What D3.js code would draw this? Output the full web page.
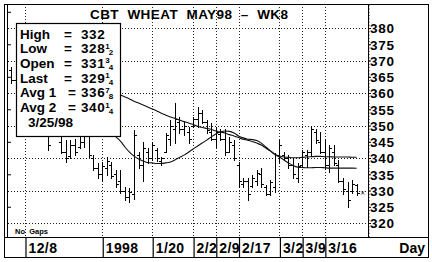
<!DOCTYPE html>
<html>
<head>
<meta charset="utf-8">
<script src="https://cdn.jsdelivr.net/npm/d3@7"></script>
<style>
  html, body { margin: 0; padding: 0; background: #fff; }
  svg { display: block; }
  text { font-family: "Liberation Sans", Arial, sans-serif; font-weight: bold; fill: #000; }
</style>
</head>
<body>
<svg id="chart" width="432" height="262"></svg>
<script>
// ---- data ---------------------------------------------------------------
const titleText = "CBT  WHEAT  MAY98  \u2013  WK8";

const dates = [
  "12/3","12/4","12/5","12/8","12/9","12/10","12/11","12/12","12/15","12/16",
  "12/17","12/18","12/19","12/22","12/23","12/24","12/26","12/29","12/30","12/31",
  "1/2","1/5","1/6","1/7","1/8","1/9","1/12","1/13","1/14","1/15",
  "1/16","1/20","1/21","1/22","1/23","1/26","1/27","1/28","1/29","1/30",
  "2/2","2/3","2/4","2/5","2/6","2/9","2/10","2/11","2/12","2/13",
  "2/17","2/18","2/19","2/20","2/23","2/24","2/25","2/26","2/27","3/2",
  "3/3","3/4","3/5","3/6","3/9","3/10","3/11","3/12","3/13","3/16",
  "3/17","3/18","3/19","3/20","3/23","3/24","3/25"
];

const highs = [
  368, 367, 364, 362, 360, 358, 357, 354, 349, 352,
  351, 346.5, 345.5, 345.5, 346, 346.5, 347.75, 348.5, 341, 338.5,
  338.75, 340.25, 338.75, 336.25, 336.25, 331, 330.75, 348.5, 342, 345,
  343, 345, 343, 340.25, 347.75, 351.75, 357, 352.5, 351, 349.5,
  352.5, 355.75, 354.75, 351.75, 350.75, 349.5, 349, 349, 346.5, 345.5,
  338.75, 333.75, 334, 334.75, 336.25, 337, 331.75, 333.25, 341.5, 345.5,
  341.75, 341, 340, 338.5, 342.5, 342.5, 350, 349, 348, 346,
  344, 344, 339.5, 334, 332.5, 333.25, 332
];
const lows = [
  363, 361, 358, 356, 354, 352, 351, 348, 342.5, 347,
  347.5, 341.5, 338.75, 340, 341, 343, 343.5, 340.25, 336.25, 333.75,
  333.25, 334.75, 333.75, 331, 329.25, 327, 326.5, 327.5, 337, 333,
  338.5, 339.5, 339, 337.75, 341.75, 344, 344.5, 347.75, 347, 344.5,
  349.5, 349.5, 350.75, 347.75, 345.5, 343.5, 345.5, 341, 341.75, 339.5,
  331, 331, 327, 331, 331.75, 331, 328.5, 328.5, 329.5, 338.75,
  339.5, 337, 333.75, 332.5, 337.75, 337.25, 340.5, 344.5, 341.5, 337,
  335.75, 337.75, 332.5, 329, 325, 329.25, 328.5
];
const opens = [
  367, 364, 362, 359, 357, 355, 353, 353, 348, 347.5,
  350, 345, 342, 340.5, 344, 343.5, 345, 347, 340, 337,
  335, 337, 338, 335, 333, 330, 328, 329, 341, 338,
  342, 340, 342.5, 339, 342, 346, 349, 351, 349, 348,
  350, 352, 354, 351, 348, 346, 347.5, 346, 342, 344,
  338, 332, 333, 331.5, 333, 335, 331, 329, 331, 341,
  341, 340, 338, 334, 338, 341, 342, 348, 345, 342,
  338, 342, 338, 333, 330, 330, 331.75
];
const closes = [
  364, 362, 359, 357, 355, 353, 354, 349, 344, 351,
  348, 342, 340, 344, 342, 345, 347, 341, 337, 335,
  337.5, 339, 334.5, 332, 330, 328, 329.5, 347, 338, 343,
  340, 344, 340, 340, 347, 350, 352, 349, 350, 346,
  352, 354, 351, 348.5, 346, 348, 346, 342, 345, 340,
  333, 333, 329, 334, 335.5, 332, 329, 332.5, 341, 344,
  340, 338, 335, 337.5, 342, 342, 349, 345.5, 342, 338,
  343, 338.5, 333, 330.5, 327, 332, 329.25
];

// moving averages, daily from 1/7 to 3/25
const avgStart = "1/7";
const avg1 = [
  346.5, 345.2, 343.4, 341.8, 340.6, 339.7, 339.1, 338.6, 338.5, 338.3,
  338.3, 338.5, 338.8, 339.4, 340.2, 340.9, 341.8, 342.8, 343.7, 344.6,
  345.5, 346.5, 347.4, 348.0, 348.3, 348.2, 347.7, 346.8, 346.2, 345.8,
  345.7, 345.4, 344.6, 343.4, 342.2, 341.1, 340.3, 339.4, 338.5, 337.7,
  337.2, 337.1, 337.0, 337.0, 337.1, 337.1, 337.0, 336.9, 336.9, 336.9,
  336.9, 336.9, 336.9, 336.875
];
const avg2 = [
  360.3, 359.4, 358.8, 358.2, 357.5, 356.9, 356.3, 355.7, 355.1, 354.5,
  353.8, 353.2, 352.6, 352.2, 351.7, 351.2, 350.8, 350.3, 349.8, 349.4,
  349.1, 348.8, 348.3, 348.0, 347.7, 347.2, 346.8, 346.3, 345.8, 345.5,
  345.1, 344.6, 344.0, 343.1, 342.2, 341.2, 340.6, 340.3, 340.2, 340.1,
  340.1, 340.2, 340.3, 340.4, 340.5, 340.5, 340.4, 340.4, 340.3, 340.3,
  340.3, 340.3, 340.25, 340.25
];

const tickDates  = ["12/8", "1/2", "1/20", "2/2", "2/9", "2/17", "3/2", "3/9", "3/16"];
const tickLabels = ["12/8", "1998", "1/20", "2/2", "2/9", "2/17", "3/2", "3/9", "3/16"];
const priceLabels = [320, 325, 330, 335, 340, 345, 350, 355, 360, 365, 370, 375, 380];
const gridPrices  = [320, 330, 340, 350, 360, 370, 380];
const lastDateLabel = "3/25/98";

// ---- layout -------------------------------------------------------------
const svg = d3.select("#chart");
const frame = { left: 4, right: 428, top: 4, bottom: 257 };
const plot  = { left: 8, right: 368, top: 4, bottom: 237 };

const x = d3.scaleLinear().domain([-0.74, 78.5]).range([plot.left, plot.right]);
const y = d3.scaleLinear().domain([315.7, 387.4]).range([plot.bottom, plot.top]);
const cx = i => Math.round(x(i)) + 0.5;
const cy = v => Math.round(y(v)) + 0.5;

const bars = dates.map((d, i) => ({ i, d, h: highs[i], l: lows[i], o: opens[i], c: closes[i] }));
const a0 = dates.indexOf(avgStart);
const avg1Pts = avg1.map((v, k) => ({ i: a0 + k, v }));
const avg2Pts = avg2.map((v, k) => ({ i: a0 + k, v }));
const tickIdx = tickDates.map(d => dates.indexOf(d));

svg.append("rect").attr("width", 432).attr("height", 262).attr("fill", "#fff");

// ---- grid ---------------------------------------------------------------
const grid = svg.append("g")
  .attr("stroke", "#222").attr("stroke-width", 1).attr("stroke-dasharray", "1,2")
  .attr("shape-rendering", "crispEdges");
grid.selectAll("line.h").data(gridPrices).join("line").attr("class", "h")
  .attr("x1", plot.left).attr("x2", plot.right)
  .attr("y1", d => cy(d)).attr("y2", d => cy(d));
grid.selectAll("line.v").data(tickIdx).join("line").attr("class", "v")
  .attr("x1", d => cx(d)).attr("x2", d => cx(d))
  .attr("y1", plot.top).attr("y2", plot.bottom);

// ---- OHLC bars ----------------------------------------------------------
const bg = svg.append("g").attr("stroke", "#000").attr("stroke-width", 1)
  .attr("shape-rendering", "crispEdges");
const bar = bg.selectAll("g").data(bars).join("g");
bar.append("line")
  .attr("x1", d => cx(d.i)).attr("x2", d => cx(d.i))
  .attr("y1", d => Math.round(y(d.h))).attr("y2", d => Math.round(y(d.l)) + 1);
bar.append("line")
  .attr("x1", d => cx(d.i) - 2.5).attr("x2", d => cx(d.i))
  .attr("y1", d => cy(d.o)).attr("y2", d => cy(d.o));
bar.append("line")
  .attr("x1", d => cx(d.i)).attr("x2", d => cx(d.i) + 2.5)
  .attr("y1", d => cy(d.c)).attr("y2", d => cy(d.c));

// ---- moving averages ----------------------------------------------------
const line = d3.line().x(d => x(d.i)).y(d => y(d.v)).curve(d3.curveMonotoneX);
[avg1Pts, avg2Pts].forEach(pts => {
  svg.append("path").datum(pts).attr("d", line)
    .attr("fill", "none").attr("stroke", "#111").attr("stroke-width", 1.1);
});

// last price marker
const last = bars[bars.length - 1];
const mx = x(last.i) + 6, my = y(last.c);
svg.append("path")
  .attr("d", `M${mx - 1.5},${my - 1.5}L${mx + 1.5},${my + 1.5}M${mx - 1.5},${my + 1.5}L${mx + 1.5},${my - 1.5}`)
  .attr("stroke", "#000").attr("stroke-width", 0.8);

// ---- right price axis ---------------------------------------------------
const yAxis = d3.axisRight(y).tickValues(priceLabels).tickSize(3).tickPadding(1)
  .tickFormat(d3.format("d"));
svg.append("g").attr("transform", `translate(${plot.right},0)`).call(yAxis)
  .call(g => g.select(".domain").remove())
  .attr("font-size", 13.5).attr("font-family", null)
  .call(g => g.selectAll("line").attr("stroke", "#000"))
  .call(g => g.selectAll("text").attr("x", 2).attr("dy", "0.36em")
    .attr("letter-spacing", 0.8));
const yMinor = d3.axisRight(y).tickValues(d3.range(316, 388)).tickSize(1.5).tickFormat("");
svg.append("g").attr("transform", `translate(${plot.right},0)`).call(yMinor)
  .call(g => g.select(".domain").remove())
  .call(g => g.selectAll("line").attr("stroke", "#000"));

// left border ticks
const yLeft = d3.axisRight(y).tickValues([325, 335, 345, 355, 365, 375, 385]).tickSize(3).tickFormat("");
svg.append("g").attr("transform", `translate(${plot.left},0)`).call(yLeft)
  .call(g => g.select(".domain").remove())
  .call(g => g.selectAll("line").attr("stroke", "#000"));

// ---- frame --------------------------------------------------------------
const fr = svg.append("g").attr("stroke", "#000").attr("fill", "none")
  .attr("shape-rendering", "crispEdges");
fr.append("rect").attr("x", frame.left + 0.5).attr("y", frame.top + 0.5)
  .attr("width", frame.right - frame.left).attr("height", frame.bottom - frame.top)
  .attr("stroke-width", 1.5);
fr.append("line").attr("x1", plot.left - 0.5).attr("x2", plot.left - 0.5)
  .attr("y1", plot.top).attr("y2", plot.bottom).attr("stroke-width", 1);
fr.append("line").attr("x1", plot.right + 0.5).attr("x2", plot.right + 0.5)
  .attr("y1", plot.top).attr("y2", plot.bottom).attr("stroke-width", 1);
fr.append("line").attr("x1", frame.left).attr("x2", frame.right)
  .attr("y1", plot.bottom + 0.5).attr("y2", plot.bottom + 0.5).attr("stroke-width", 1.5);

// ---- date axis band -----------------------------------------------------
const xAxis = d3.axisBottom(x).tickValues(tickIdx).tickSize(frame.bottom - plot.bottom)
  .tickFormat((d, k) => tickLabels[k]);
svg.append("g").attr("transform", `translate(0,${plot.bottom})`).call(xAxis)
  .call(g => g.select(".domain").remove())
  .attr("font-size", 14).attr("font-family", null).attr("text-anchor", "start")
  .call(g => g.selectAll("line").attr("stroke", "#000").attr("stroke-width", 1.2)
    .attr("transform", "translate(0.5,0)"))
  .call(g => g.selectAll("text").attr("x", 3).attr("y", 15.5).attr("dy", null)
    .attr("letter-spacing", 0.4));

svg.append("text").attr("x", frame.right - 3).attr("y", 252.5)
  .attr("text-anchor", "end").attr("font-size", 14).text("Day");
svg.append("text").attr("x", 15).attr("y", 234).attr("font-size", 7.5)
  .attr("xml:space", "preserve").style("white-space", "pre").text("No  Gaps");

// ---- title --------------------------------------------------------------
svg.append("text").attr("x", 90).attr("y", 18.5).attr("font-size", 13.5)
  .attr("xml:space", "preserve").style("white-space", "pre")
  .attr("textLength", 198).attr("lengthAdjust", "spacing")
  .text(titleText);

// ---- info box -----------------------------------------------------------
function parts(v) {
  const whole = Math.floor(v);
  let num = Math.round((v - whole) * 8), den = 8;
  while (num && num % 2 === 0) { num /= 2; den /= 2; }
  return { whole, num, den };
}
const avgLast1 = avg1[avg1.length - 1];
const avgLast2 = avg2[avg2.length - 1];
const info = [
  { label: "High",  eqx: 64, v: last.h },
  { label: "Low",   eqx: 64, v: last.l },
  { label: "Open",  eqx: 64, v: last.o },
  { label: "Last",  eqx: 64, v: last.c },
  { label: "Avg 1", eqx: 68, v: avgLast1 },
  { label: "Avg 2", eqx: 68, v: avgLast2 }
];
const box = svg.append("g");
box.append("rect").attr("x", 16.5).attr("y", 23.5).attr("width", 104).attr("height", 113)
  .attr("fill", "#fff").attr("stroke", "#000").attr("stroke-width", 1.2);
const rowY = k => 38.5 + k * 14.7;
info.forEach((r, k) => {
  box.append("text").attr("x", 20).attr("y", rowY(k)).attr("font-size", 13.5)
    .attr("xml:space", "preserve").style("white-space", "pre").text(r.label);
  box.append("text").attr("x", r.eqx).attr("y", rowY(k)).attr("font-size", 13.5).text("=");
  const p = parts(r.v);
  const t = box.append("text").attr("x", 81).attr("y", rowY(k)).attr("font-size", 13.5);
  t.append("tspan").attr("letter-spacing", 0.6).text(p.whole);
  if (p.num) {
    t.append("tspan").attr("font-size", 8).attr("dy", -4.5).attr("dx", 0).text(p.num);
    t.append("tspan").attr("font-size", 8).attr("dy", 6.5).attr("dx", -1).text(p.den);
  }
});
box.append("text").attr("x", 28).attr("y", rowY(6) + 0.5).attr("font-size", 13.5).text(lastDateLabel);
</script>
</body>
</html>
